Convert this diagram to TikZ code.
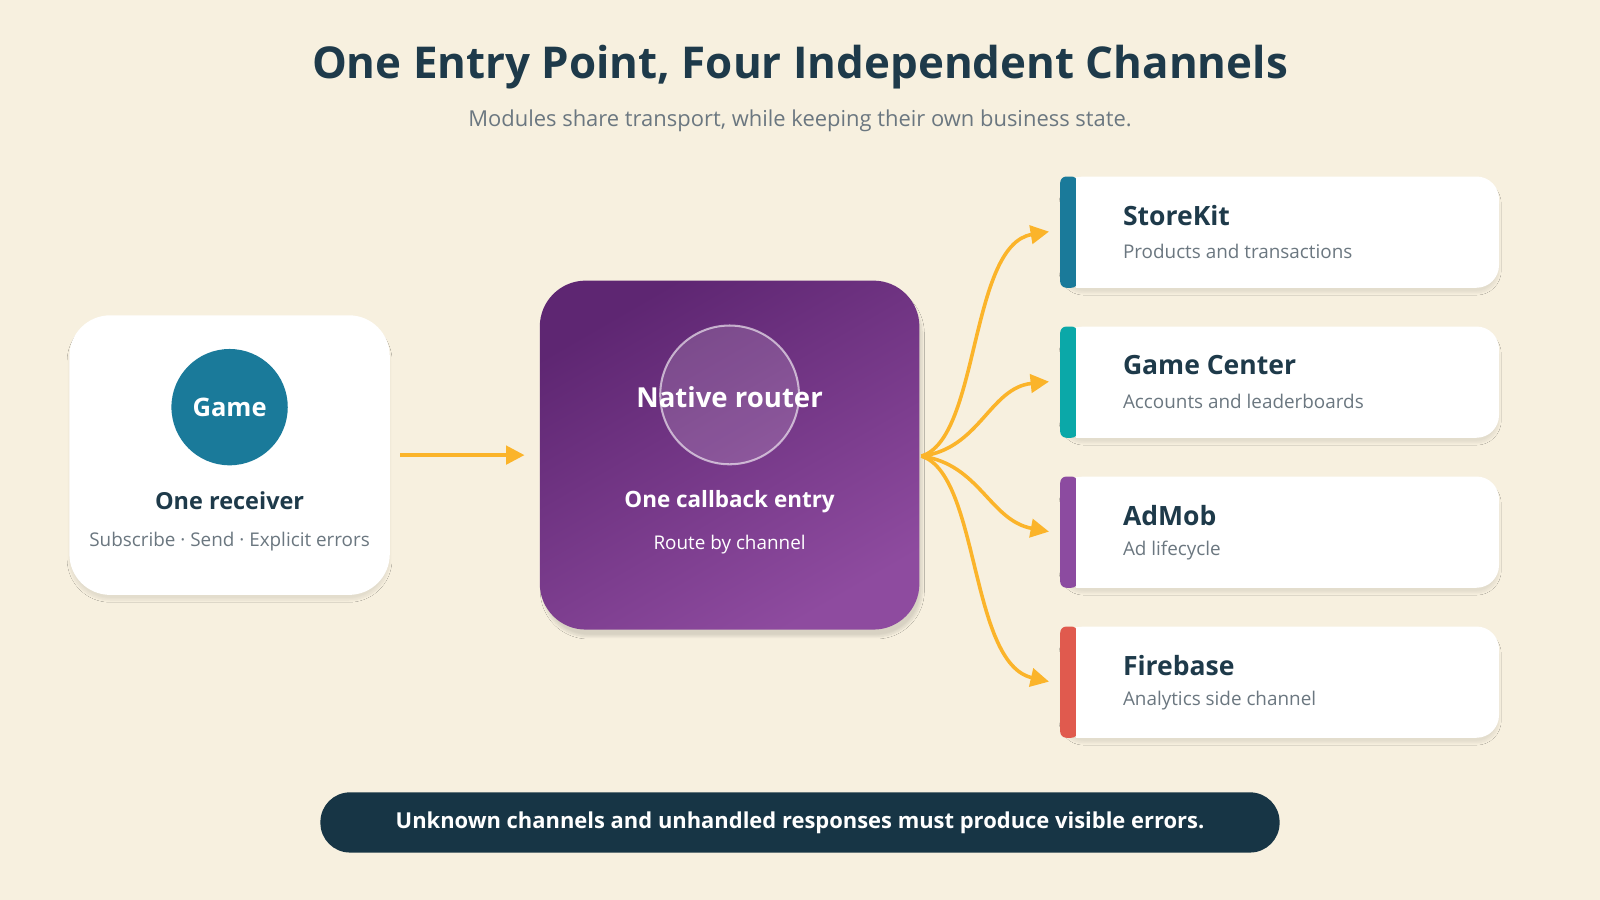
\documentclass[tikz,border=0pt]{standalone}
\usepackage{fontspec}
\setmainfont{Open Sans}
\usetikzlibrary{arrows.meta,shadows.blur}
\definecolor{bg}{HTML}{F7F0DF}
\definecolor{ink}{HTML}{1E3A4A}
\definecolor{gry}{HTML}{6B7780}
\definecolor{teal1}{HTML}{1A7A9A}
\definecolor{teal2}{HTML}{0BA8A8}
\definecolor{purp}{HTML}{8C4BA0}
\definecolor{redc}{HTML}{E05A4E}
\definecolor{orng}{HTML}{FBB42A}
\definecolor{pd}{HTML}{5E2672}
\definecolor{pl}{HTML}{8E4B9F}
\definecolor{navy}{HTML}{173545}
\newcommand{\fs}[1]{\fontsize{#1}{#1}\selectfont}
\tikzset{
 card/.style={fill=white,rounded corners=22pt,blur shadow={shadow blur steps=10,shadow xshift=0pt,shadow yshift=-5pt,shadow opacity=8}},
 arr/.style={draw=orng,line width=3.5pt,-{Triangle[length=18pt,width=18pt]}},
 ttl/.style={anchor=west,text=ink,font=\fs{26}\bfseries},
 sub/.style={anchor=west,text=gry,font=\fs{18.5}},
}
\begin{document}
\begin{tikzpicture}[x=1pt,y=-1pt]
\fill[bg] (0,0) rectangle (1568,882);
\useasboundingbox (0,0) rectangle (1568,882);
\node[text=ink,font=\fs{43}\bfseries] (title) at (784,66) {One Entry Point, Four Independent Channels};
\node[text=gry,font=\fs{21.5}] (subt) at (784,118) {Modules share transport, while keeping their own business state.};
% left card
\path[card,rounded corners=40pt] (68,309) rectangle (382,583);
\node[circle,fill=teal1,minimum size=114pt,text=white,font=\fs{25}\bfseries] (game) at (225,399) {Game};
\node[text=ink,font=\fs{23}\bfseries] (recv) at (225,491) {One receiver};
\node[text=gry,font=\fs{18.5}] (recvs) at (225,531) {Subscribe · Send · Explicit errors};
\coordinate (la) at (392,446);
\coordinate (lb) at (514,446);
\draw[arr] (la) -- (lb);
% router
\shade[top color=pd,bottom color=pl,shading angle=30,rounded corners=45pt,blur shadow={shadow blur steps=10,shadow yshift=-7pt,shadow opacity=12}] (529,275) rectangle (901,617);
\node[circle,minimum size=136pt,fill=white,fill opacity=0.15,draw=white,draw opacity=0.6,line width=2pt] (rc) at (715,387) {};
\node[text=white,font=\fs{27}\bfseries] (nr) at (715,389) {Native router};
\node[text=white,font=\fs{22}\bfseries] (oce) at (715,492) {One callback entry};
\node[text=white,font=\fs{18.5}] (rbc) at (715,534) {Route by channel};
\coordinate (src) at (903,447);
% cards
\foreach \y/\c/\t/\s/\n in {173/teal1/StoreKit/Products and transactions/a,320/teal2/Game Center/Accounts and leaderboards/b,467/purp/AdMob/Ad lifecycle/c,614/redc/Firebase/Analytics side channel/d}{
 \path[card] (1040,\y) rectangle (1469,\y+109);
 \fill[\c,rounded corners=6pt] (1039,\y) rectangle (1056,\y+109);
 \fill[white] (1054,\y) rectangle (1070,\y+109);
 \node[ttl] (t\n) at (1097,\y+38) {\t};
 \node[sub] (s\n) at (1097,\y+73) {\s};
 \coordinate (e\n) at (1028,\y+54);
}
\draw[arr] (src) .. controls (960,430) and (950,240) .. (ea);
\draw[arr] (src) .. controls (960,440) and (970,380) .. (eb);
\draw[arr] (src) .. controls (960,455) and (970,510) .. (ec);
\draw[arr] (src) .. controls (960,465) and (950,650) .. (ed);
% bottom pill
\node[fill=navy,rounded corners=29pt,minimum width=940pt,minimum height=59pt,text=white,font=\fs{21.5}\bfseries] (pill) at (784,806) {Unknown channels and unhandled responses must produce visible errors.};
\end{tikzpicture}
\end{document}
